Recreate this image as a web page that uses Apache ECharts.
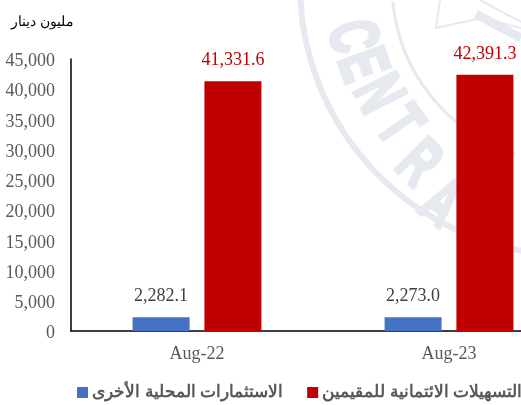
<!DOCTYPE html>
<html><head><meta charset="utf-8">
<style>html,body{margin:0;padding:0;background:#fff}#c{width:521px;height:405px}</style>
<script src="https://cdn.jsdelivr.net/npm/echarts@6/dist/echarts.min.js"></script>
</head><body><div id="c"></div>
<script>
const categories = ['Aug-22', 'Aug-23'];
const otherInvestments = [2282.1, 2273.0];
const residentCredit = [41331.6, 42391.3];
const nameOther = 'الاستثمارات المحلية الأخرى';
const nameCredit = 'التسهيلات الائتمانية للمقيمين';
const unitLabel = 'مليون دينار';
const sealLetters = [['C',350,37,77],['E',360,66,70],['N',376,95,63],['T',397,127,55],['R',417,165,45],['A',440,205,37]];

const sealColor = '#e7e9f0';
const fmt = v => v.toLocaleString('en-US', {minimumFractionDigits:1, maximumFractionDigits:1});
const serif = '"Liberation Serif", serif';
const chart = echarts.init(document.getElementById('c'), null, {renderer:'canvas'});
const sealGraphics = sealLetters.map(([t,x,y,deg]) => ({
  type:'text', z:-10, x, y, rotation:-deg*Math.PI/180, scaleX:0.62, scaleY:1, silent:true,
  style:{text:t, fill:sealColor, stroke:sealColor, lineWidth:4, font:'bold 68px "Liberation Sans"', align:'center', verticalAlign:'middle'}
}));
sealGraphics.push(
  {type:'arc', z:-10, silent:true, shape:{cx:570,cy:-15,r:270,startAngle:Math.PI*0.38,endAngle:Math.PI*1.0}, style:{stroke:sealColor,lineWidth:6,fill:null}},
  {type:'arc', z:-10, silent:true, shape:{cx:570,cy:-15,r:178,startAngle:Math.PI*0.6,endAngle:Math.PI*0.97}, style:{stroke:sealColor,lineWidth:3,fill:null}},
  {type:'polyline', z:-10, silent:true, shape:{points:[[440,0],[436,28],[482,18],[521,28]]}, style:{stroke:sealColor,lineWidth:2,fill:null}},
  {type:'line', z:-10, silent:true, shape:{x1:476,y1:14,x2:521,y2:38}, style:{stroke:sealColor,lineWidth:9}},
  {type:'line', z:-10, silent:true, shape:{x1:480,y1:0,x2:521,y2:22}, style:{stroke:sealColor,lineWidth:2}}
);
chart.setOption({
  animation:false,
  backgroundColor:'#fff',
  title:{text:unitLabel,left:6,top:10,textStyle:{fontFamily:'"Liberation Sans", sans-serif',fontSize:14,fontWeight:'normal',color:'#000'}},
  grid:{left:71,top:59,width:504,height:272,outerBoundsMode:'none',containLabel:false},
  legend:{left:72,top:379,width:700,itemWidth:11,itemHeight:11,itemGap:24,icon:'rect',
    textStyle:{fontFamily:'"Liberation Sans", sans-serif',fontSize:16.5,fontWeight:'bold',color:'#595959',padding:[0,0,0,-1]}},
  xAxis:{type:'category',data:categories,
    axisLine:{lineStyle:{color:'#000',width:1.5}},axisTick:{show:false},
    axisLabel:{fontFamily:serif,fontSize:18,color:'#595959',margin:14}},
  yAxis:{type:'value',min:0,max:45000,interval:5000,splitLine:{show:false},
    axisLine:{show:true,lineStyle:{color:'#000',width:1.5}},axisTick:{show:false},
    axisLabel:{margin:16,formatter:v=>'{a|'+v.toLocaleString('en-US')+'}',
      rich:{a:{fontFamily:serif,fontSize:18,color:'#595959',padding:[5,0,0,0]}}}},
  series:[
    {name:nameOther,type:'bar',data:otherInvestments,barWidth:57,barGap:'26%',itemStyle:{color:'#4472c4'},
     label:{show:true,position:'top',distance:12,fontFamily:serif,fontSize:18,color:'#404040',formatter:p=>fmt(p.value)}},
    {name:nameCredit,type:'bar',data:residentCredit,barWidth:57,itemStyle:{color:'#c00000'},
     label:{show:true,position:'top',distance:12,fontFamily:serif,fontSize:18,color:'#c00000',formatter:p=>fmt(p.value)}}
  ],
  graphic:{elements:sealGraphics}
});
</script></body></html>
